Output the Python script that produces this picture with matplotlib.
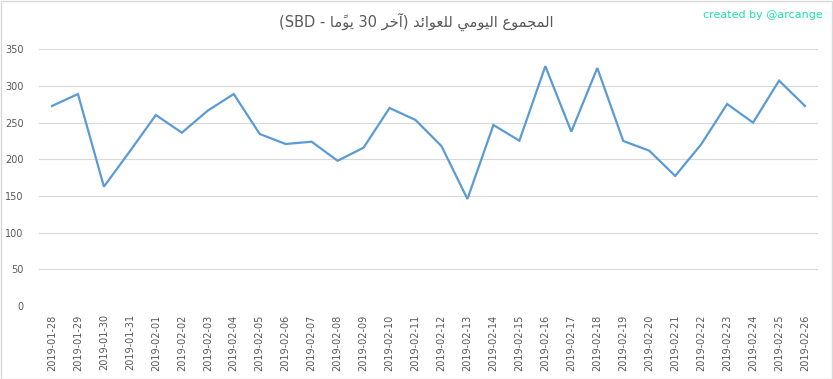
import matplotlib
matplotlib.use("Agg")
import matplotlib.pyplot as plt
from matplotlib.patches import Rectangle

# ---------------- data ----------------
dates = ["2019-01-28", "2019-01-29", "2019-01-30", "2019-01-31", "2019-02-01",
         "2019-02-02", "2019-02-03", "2019-02-04", "2019-02-05", "2019-02-06",
         "2019-02-07", "2019-02-08", "2019-02-09", "2019-02-10", "2019-02-11",
         "2019-02-12", "2019-02-13", "2019-02-14", "2019-02-15", "2019-02-16",
         "2019-02-17", "2019-02-18", "2019-02-19", "2019-02-20", "2019-02-21",
         "2019-02-22", "2019-02-23", "2019-02-24", "2019-02-25", "2019-02-26"]
rewards = [272.7, 289.0, 162.7, 211.0, 260.4, 236.3, 266.4, 289.0, 234.5, 220.9,
           224.0, 198.0, 215.9, 270.0, 253.6, 218.0, 145.9, 246.8, 225.4, 327.0,
           237.7, 324.5, 225.0, 211.8, 177.3, 220.4, 275.4, 250.0, 307.3, 272.7]
y_ticks = [0, 50, 100, 150, 200, 250, 300, 350]

title_ar_1 = "المجموع اليومي للعوائد"
title_ar_2 = "آخر"
title_num = "30"
title_ar_3 = "يومًا"
title_unit = "SBD"
credit = "created by @arcange"

# ---------- minimal Arabic shaping (presentation forms) ----------
FORMS = {  # isolated, final, initial, medial
    "\u0627": ("\uFE8D", "\uFE8E", None, None),
    "\u0622": ("\uFE81", "\uFE82", None, None),
    "\u0644": ("\uFEDD", "\uFEDE", "\uFEDF", "\uFEE0"),
    "\u0645": ("\uFEE1", "\uFEE2", "\uFEE3", "\uFEE4"),
    "\u062C": ("\uFE9D", "\uFE9E", "\uFE9F", "\uFEA0"),
    "\u0648": ("\uFEED", "\uFEEE", None, None),
    "\u0639": ("\uFEC9", "\uFECA", "\uFECB", "\uFECC"),
    "\u064A": ("\uFEF1", "\uFEF2", "\uFEF3", "\uFEF4"),
    "\u0626": ("\uFE89", "\uFE8A", "\uFE8B", "\uFE8C"),
    "\u062F": ("\uFEA9", "\uFEAA", None, None),
    "\u062E": ("\uFEA5", "\uFEA6", "\uFEA7", "\uFEA8"),
    "\u0631": ("\uFEAD", "\uFEAE", None, None),
}
MARKS = set("\u064B\u064C\u064D\u064E\u064F\u0650\u0651\u0652")


def shape_rtl(text):
    # build clusters (base + marks)
    clusters = []
    for ch in text:
        if ch in MARKS and clusters:
            clusters[-1][1].append(ch)
        else:
            clusters.append([ch, []])
    out = []
    n = len(clusters)
    for i, (ch, marks) in enumerate(clusters):
        if ch in FORMS:
            prev = clusters[i - 1][0] if i > 0 else None
            nxt = clusters[i + 1][0] if i + 1 < n else None
            join_prev = prev in FORMS and FORMS[prev][2] is not None
            join_next = FORMS[ch][2] is not None and nxt in FORMS
            iso, fin, ini, med = FORMS[ch]
            if join_prev and join_next:
                g = med
            elif join_prev:
                g = fin
            elif join_next:
                g = ini
            else:
                g = iso
        else:
            g = ch
        out.append(g + "".join(marks))
    return "".join(reversed(out))


title_visual = ("(" + title_unit + " - " + shape_rtl(title_ar_3) + " " + title_num + " "
                + shape_rtl(title_ar_2) + ") " + shape_rtl(title_ar_1))

# ---------------- figure ----------------
W, H = 833, 379
fig = plt.figure(figsize=(W / 100, H / 100), dpi=100)
fig.patch.set_facecolor("white")

ax = fig.add_axes([39 / W, 1 - 306 / H, (818 - 39) / W, (306 - 49.3) / H])
x = list(range(len(dates)))
ax.plot(x, rewards, color="#5b9bd5", lw=1.6, solid_joinstyle="miter")

ax.set_xlim(-0.5, len(dates) - 0.5)
ax.set_ylim(0, 350)
ax.set_yticks(y_ticks)
ax.set_yticklabels([str(v) for v in y_ticks])
ax.set_xticks(x)
ax.set_xticklabels(dates, rotation=90, va="top", ha="center")
ax.grid(axis="y", color="#d9d9d9", lw=0.8)
ax.set_axisbelow(True)
for s in ax.spines.values():
    s.set_visible(False)
ax.tick_params(axis="both", length=0, labelsize=7, colors="#595959")
ax.tick_params(axis="y", pad=11)
ax.tick_params(axis="x", pad=6)

fig.text(0.5, 1 - 22 / H, title_visual, ha="center", va="center",
         fontsize=10.5, color="#595959", family=["DejaVu Sans"])
fig.text(823 / W, 1 - 15 / H, credit, ha="right", va="center",
         fontsize=8, color="#1de0a8")

fig.patches.append(Rectangle((0.5 / W, 0.5 / H), 1 - 1.5 / W, 1 - 1.5 / H,
                             transform=fig.transFigure, fill=False,
                             edgecolor="#d9d9d9", lw=1))

fig.savefig("out.png", dpi=100)
